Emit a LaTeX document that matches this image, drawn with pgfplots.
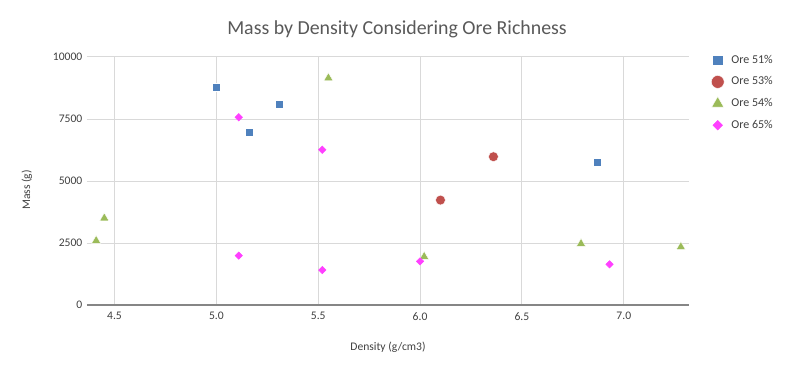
\documentclass[border=0pt]{standalone}
\usepackage{pgfplots}
\pgfplotsset{compat=1.18}
\usepackage{fontspec}
\setmainfont{Carlito}
\definecolor{cA}{HTML}{4F81BD}
\definecolor{cB}{HTML}{C0504D}
\definecolor{cC}{HTML}{9BBB59}
\definecolor{cD}{HTML}{FF40FF}
\definecolor{gridgray}{HTML}{D9D9D9}
\definecolor{axgray}{HTML}{868686}
\definecolor{txtgray}{HTML}{404040}
\definecolor{titlegray}{HTML}{595959}
\begin{document}
\begin{tikzpicture}
\useasboundingbox (0pt,0pt) rectangle (592.5pt,279pt);
\begin{axis}[
  at={(65.25pt,50.25pt)}, anchor=south west,
  scale only axis, width=451.5pt, height=186pt,
  xmin=4.365, xmax=7.32, ymin=0, ymax=10000,
  xtick={4.5,5.0,5.5,6.0,6.5,7.0},
  ytick={0,2500,5000,7500,10000},
  scaled ticks=false,
  /pgf/number format/assume math mode=true,
  xticklabel style={/pgf/number format/.cd, fixed, fixed zerofill, precision=1, /tikz/.cd, yshift=-2pt},
  yticklabel style={/pgf/number format/.cd, fixed, 1000 sep={}},
  ticklabel style={font=\fontsize{8.7}{10}\selectfont, text=txtgray},
  major tick length=0pt,
  grid=major,
  major grid style={draw=gridgray, line width=0.75pt},
  axis x line*=bottom, axis y line*=left,
  x axis line style={draw=axgray, line width=0.9pt, -},
  y axis line style={draw=none},
  every axis title shift=0pt,
  title={Mass by Density Considering Ore Richness},
  title style={at={(0.515,1.111)}, anchor=center, font=\fontsize{14.9}{17}\selectfont, text=titlegray},
  xlabel={Density (g/cm3)},
  xlabel style={at={(0.5,-0.169)}, anchor=center, font=\fontsize{8.7}{10}\selectfont, text=txtgray},
  ylabel={Mass (g)},
  ylabel style={at={(-0.1,0.464)}, anchor=center, font=\fontsize{8.7}{10}\selectfont, text=txtgray},
  legend style={at={(1.030,1.03)}, anchor=north west, draw=none, fill=none,
    font=\fontsize{9}{10.5}\selectfont, text=txtgray, row sep=4.6pt},
  legend cell align=left,
  legend image code/.code={\path[draw=none, fill=none] (0cm,-0.1cm) (0.41cm,0.1cm);
    \draw[#1, every mark/.append style={scale=1.3}] plot coordinates {(0.12cm,0cm)};},
]
\addplot[only marks, mark=square*, mark size=3pt, color=cA, mark options={draw=white, line width=0.3pt, fill=cA}]
  coordinates {(5.00,8780) (5.16,6960) (5.31,8090) (6.87,5750)};
\addlegendentry{Ore 51\%}
\addplot[only marks, mark=*, mark size=3.7pt, color=cB, mark options={draw=white, line width=0.3pt, fill=cB}]
  coordinates {(6.10,4230) (6.36,5980)};
\addlegendentry{Ore 53\%}
\addplot[only marks, mark=triangle*, mark size=4pt, color=cC, mark options={draw=white, line width=0.3pt, fill=cC}]
  coordinates {(4.41,2590) (4.45,3500) (5.55,9150) (6.02,1950) (6.79,2470) (7.28,2340)};
\addlegendentry{Ore 54\%}
\addplot[only marks, mark=square*, mark size=1.95pt, color=cD, mark options={rotate=45, draw=cD, fill=cD}]
  coordinates {(5.11,7570) (5.52,6260) (5.11,1990) (5.52,1410) (6.00,1760) (6.93,1640)};
\addlegendentry{Ore 65\%}
\end{axis}
\end{tikzpicture}
\end{document}
